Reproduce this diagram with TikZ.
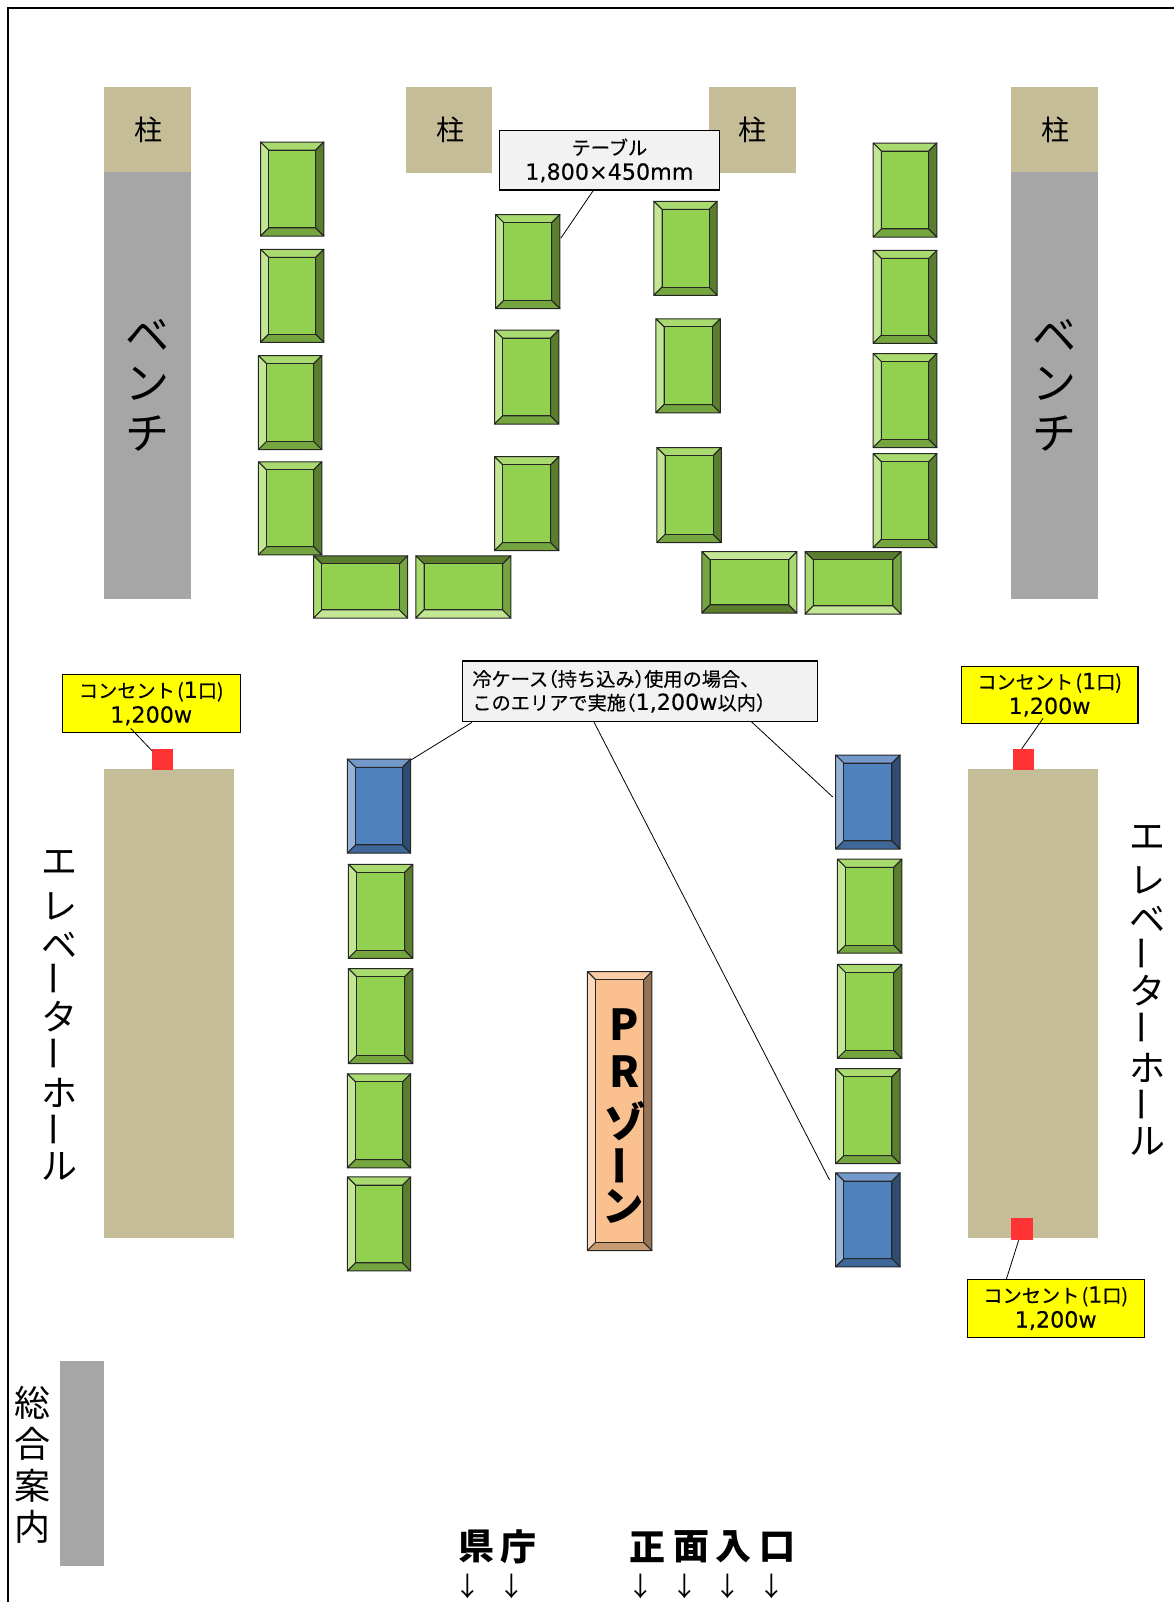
\documentclass[tikz,border=0pt]{standalone}
\usepackage{fontspec}
\setmainfont{Noto Sans CJK JP}
\newfontfamily\cjkm[FakeBold=0.3]{Noto Sans CJK JP}
\newfontfamily\latm[FakeBold=0.2]{DejaVu Sans}
\definecolor{tan}{HTML}{C4BD97}
\definecolor{gry}{HTML}{A6A6A6}
\definecolor{redb}{HTML}{FF3333}
\definecolor{callg}{HTML}{F2F2F2}
\definecolor{yel}{HTML}{FFFF00}
\definecolor{gC}{HTML}{92D050}
\definecolor{gT}{HTML}{A8DA70}
\definecolor{gL}{HTML}{C3E695}
\definecolor{gB}{HTML}{74A53F}
\definecolor{gR}{HTML}{5A7E2E}
\definecolor{bC}{HTML}{4F81BD}
\definecolor{bT}{HTML}{7299CA}
\definecolor{bL}{HTML}{95B3D7}
\definecolor{bB}{HTML}{3F6797}
\definecolor{bR}{HTML}{2F4D71}
\definecolor{oC}{HTML}{FAC090}
\definecolor{oT}{HTML}{FBCDA6}
\definecolor{oL}{HTML}{FCD9BC}
\definecolor{oB}{HTML}{C89A73}
\definecolor{oR}{HTML}{967356}
\tikzset{
  lbl/.style={inner sep=0pt},
  area/.style={inner sep=0pt,draw=none},
  callout/.style={draw=black,line width=0.9pt,inner sep=0pt,align=center},
  leader/.style={draw=black,line width=0.6pt},
}
\newcommand\bevelcore[9]{%
  \node[inner sep=0pt,minimum width={(#4-#2)*0.7664pt},minimum height={(#5-#3)*0.7664pt}] (#1) at ({(#2+#4)/2},{(#3+#5)/2}) {};
  \def\xa{#2}\def\ya{#3}\def\xb{#4}\def\yb{#5}\def\cc{#6}\def\ct{#7}\def\cl{#8}\def\cbb{#9}\bevelrest}
\newcommand\bevelrest[1]{%
  \begin{scope}[draw=black!85,line width=0.75pt,line join=round]
  \filldraw[fill=\ct] (\xa,\ya) -- (\xb,\ya) -- (\xb-8,\ya+8) -- (\xa+8,\ya+8) -- cycle;
  \filldraw[fill=\cl] (\xa,\ya) -- (\xa+8,\ya+8) -- (\xa+8,\yb-8) -- (\xa,\yb) -- cycle;
  \filldraw[fill=\cbb] (\xa,\yb) -- (\xa+8,\yb-8) -- (\xb-8,\yb-8) -- (\xb,\yb) -- cycle;
  \filldraw[fill=#1] (\xb,\ya) -- (\xb-8,\ya+8) -- (\xb-8,\yb-8) -- (\xb,\yb) -- cycle;
  \filldraw[fill=\cc] (\xa+8,\ya+8) rectangle (\xb-8,\yb-8);
  \end{scope}}
\newcommand\gtbl[5]{\bevelcore{#1}{#2}{#3}{#4}{#5}{gC}{gT}{gL}{gB}{gR}}
\newcommand\btbl[5]{\bevelcore{#1}{#2}{#3}{#4}{#5}{bC}{bT}{bL}{bB}{bR}}
\newcommand\htbl[5]{\bevelcore{#1}{#2}{#3}{#4}{#5}{gC}{gR}{gT}{gL}{gB}}
\newcommand\fA{\fontsize{21}{24}\selectfont}
\newcommand\fB{\fontsize{33}{40}\selectfont}
\newcommand\fC{\fontsize{27}{32}\selectfont}
\newcommand\fE{\fontsize{14.4}{18.6}\selectfont\cjkm}
\newcommand\fF{\fontsize{32}{36}\selectfont\bfseries}
\newcommand\fK{\fontsize{31}{36}\selectfont\bfseries}
\newcommand\fG{\fontsize{27}{32}\selectfont\bfseries}
\newcommand\fH{\fontsize{20}{24}\selectfont}
\newcommand\vbar{\rotatebox[origin=c]{90}{ー}}
\newcommand\lt[1]{{\latm\fontsize{16.7}{18.6}\selectfont #1}}
\newcommand\lpr{\kern-.5em（}
\newcommand\rpr{）\kern-.5em}
\newcommand\outlettext{コンセント\kern.12em(\lt{1}口)\\\lt{1,200w}}
\begin{document}
\begin{tikzpicture}[x=0.7664pt,y=-0.7664pt]
\useasboundingbox (0,0) rectangle (1149,1568);
\fill[white] (0,0) rectangle (1149,1568);
\draw[black,line width=1.5pt] (7.8,1568) -- (7.8,7.5) -- (1149,7.5);
% pillars, benches, halls
\fill[tan] (102,85) rectangle (187,168);
\fill[tan] (397,85) rectangle (482,169);
\fill[tan] (693.7,85) rectangle (778.7,169);
\fill[tan] (989.5,85) rectangle (1074.5,168);
\fill[gry] (102,168) rectangle (187,586);
\fill[gry] (989.5,168) rectangle (1074.5,586);
\fill[tan] (102,753) rectangle (229,1212);
\fill[tan] (947.5,753) rectangle (1074.5,1212);
\fill[gry] (59,1332) rectangle (102,1533);
\node[lbl,font=\fA] (p1) at (145,127) {柱};
\node[lbl,font=\fA] (p2) at (441,127) {柱};
\node[lbl,font=\fA] (p3) at (737,127) {柱};
\node[lbl,font=\fA] (p4) at (1033,127) {柱};
% bench labels
\node[lbl,font=\fB] (b1a) at (144,328) {ベ};
\node[lbl,font=\fB] (b1b) at (144,376) {ン};
\node[lbl,font=\fB] (b1c) at (144,424) {チ};
\node[lbl,font=\fB] (b2a) at (1032,328) {ベ};
\node[lbl,font=\fB] (b2b) at (1032,376) {ン};
\node[lbl,font=\fB] (b2c) at (1032,424) {チ};
% elevator labels
\node[lbl,font=\fC] (e1) at (58,844) {エ};
\node[lbl,font=\fC] (e2) at (58,887) {レ};
\node[lbl,font=\fC] (e3) at (58,925) {ベ};
\node[lbl,font=\fC] (e4) at (58,958) {\vbar};
\node[lbl,font=\fC] (e5) at (58,995) {タ};
\node[lbl,font=\fC] (e6) at (58,1031) {\vbar};
\node[lbl,font=\fC] (e7) at (58,1070) {ホ};
\node[lbl,font=\fC] (e8) at (58,1106) {\vbar};
\node[lbl,font=\fC] (e9) at (58,1142) {ル};
\node[lbl,font=\fC] (f1) at (1123,820) {エ};
\node[lbl,font=\fC] (f2) at (1123,862) {レ};
\node[lbl,font=\fC] (f3) at (1123,900) {ベ};
\node[lbl,font=\fC] (f4) at (1123,933) {\vbar};
\node[lbl,font=\fC] (f5) at (1123,970) {タ};
\node[lbl,font=\fC] (f6) at (1123,1006) {\vbar};
\node[lbl,font=\fC] (f7) at (1123,1045) {ホ};
\node[lbl,font=\fC] (f8) at (1123,1081) {\vbar};
\node[lbl,font=\fC] (f9) at (1123,1117) {ル};
% info desk
\node[lbl,font=\fC] (g1) at (32,1373) {総};
\node[lbl,font=\fC] (g2) at (32,1413) {合};
\node[lbl,font=\fC] (g3) at (32,1454) {案};
\node[lbl,font=\fC] (g4) at (32,1494) {内};
% tables
\gtbl{t1}{255}{139}{317}{231}
\gtbl{t2}{255}{244}{317}{335}
\gtbl{t3}{253}{348}{315}{440}
\gtbl{t4}{253}{452}{315}{543}
\gtbl{t5}{485}{210}{548}{302}
\gtbl{t6}{484}{323}{547}{415}
\gtbl{t7}{484}{447}{547}{539}
\htbl{t8}{307}{544}{399}{605}
\htbl{t9}{407}{544}{500}{605}
\gtbl{t10}{640}{197}{702}{289}
\gtbl{t11}{642}{312}{705}{404}
\gtbl{t12}{643}{438}{706}{531}
\gtbl{t13}{854.7}{140}{917}{232}
\gtbl{t14}{854.7}{245}{917}{336}
\gtbl{t15}{854.7}{346}{917}{438}
\gtbl{t16}{854.7}{444}{917}{536}
\bevelcore{t17}{687}{540}{780}{600}{gC}{gL}{gB}{gR}{gT}
\htbl{t18}{788}{540}{882}{601}
\btbl{u1}{340}{743}{402}{835}
\gtbl{u2}{341}{846}{404}{938}
\gtbl{u3}{341}{948}{404}{1041}
\gtbl{u4}{340}{1051}{402}{1143}
\gtbl{u5}{340}{1152}{402}{1244}
\btbl{v1}{818}{739}{881}{831}
\gtbl{v2}{819.7}{841}{882.7}{933}
\gtbl{v3}{819.7}{944}{882.7}{1036}
\gtbl{v4}{818}{1046}{881}{1139}
\btbl{v5}{818}{1148}{881}{1240}
\bevelcore{pr}{575}{951}{638}{1224}{oC}{oT}{oL}{oB}{oR}
\node[lbl,font=\fF] (pr1) at (611,1003) {P};
\node[lbl,font=\fF] (pr2) at (611,1049) {R};
\node[lbl,font=\fK] (pr3) at (612,1097) {ゾ};
\node[lbl,font=\fK] (pr4) at (612,1141) {\vbar};
\node[lbl,font=\fK] (pr5) at (610,1181) {ン};
% red outlets
\node[area,fill=redb,minimum width=15.3pt,minimum height=16pt] (r1) at (159,743.5) {};
\node[area,fill=redb,minimum width=16pt,minimum height=16pt] (r2) at (1002,743.5) {};
\node[area,fill=redb,minimum width=16.5pt,minimum height=16.5pt] (r3) at (1000.5,1203) {};
% callouts
\node[callout,fill=callg,font=\fE,minimum width=164.8pt,minimum height=44.5pt] (c1) at (596.5,157) {テーブル\\\lt{1,800×450mm}};
\node[callout,fill=callg,font=\fE,minimum width=266pt,minimum height=45.2pt,align=left,text width=251.6pt] (c2) at (626.5,676.5) {冷ケース\lpr 持ち込み\rpr 使用の場合、\\[-0.8pt]このエリアで実施\lpr\lt{1,200w}以内\rpr};
\node[callout,fill=yel,font=\fE,minimum width=133.4pt,minimum height=43.7pt] (y1) at (148,688.5) {\outlettext};
\node[callout,fill=yel,font=\fE,minimum width=132.6pt,minimum height=42.9pt] (y2) at (1027.3,680) {\outlettext};
\node[callout,fill=yel,font=\fE,minimum width=132.6pt,minimum height=43.7pt] (y3) at (1033.3,1280.5) {\outlettext};
% leaders
\coordinate (l1a) at (581,186); \coordinate (l1b) at (549,233);
\coordinate (l2a) at (462,707); \coordinate (l2b) at (402,744);
\coordinate (l3a) at (735,706); \coordinate (l3b) at (815,780);
\coordinate (l4a) at (581,706); \coordinate (l4b) at (812,1155);
\coordinate (l5a) at (128,713); \coordinate (l5b) at (149,735);
\coordinate (l6a) at (1021,703); \coordinate (l6b) at (1000,733);
\coordinate (l7a) at (997,1214); \coordinate (l7b) at (985,1252);
\draw[leader] (l1a) -- (l1b);
\draw[leader] (l2a) -- (l2b);
\draw[leader] (l3a) -- (l3b);
\draw[leader] (l4a) -- (l4b);
\draw[leader] (l5a) -- (l5b);
\draw[leader] (l6a) -- (l6b);
\draw[leader] (l7a) -- (l7b);
% entrance labels
\node[lbl,font=\fG] (k1) at (466,1514) {県};
\node[lbl,font=\fG] (k2) at (507,1514) {庁};
\node[lbl,font=\fG] (m1) at (634,1514) {正};
\node[lbl,font=\fG] (m2) at (677,1514) {面};
\node[lbl,font=\fG] (m3) at (718,1514) {入};
\node[lbl,font=\fG] (m4) at (761,1514) {口};
\node[lbl,font=\fH] (a1) at (458,1553) {↓};
\node[lbl,font=\fH] (a2) at (501,1553) {↓};
\node[lbl,font=\fH] (a3) at (627,1553) {↓};
\node[lbl,font=\fH] (a4) at (670,1553) {↓};
\node[lbl,font=\fH] (a5) at (712,1553) {↓};
\node[lbl,font=\fH] (a6) at (755,1553) {↓};
\end{tikzpicture}
\end{document}
